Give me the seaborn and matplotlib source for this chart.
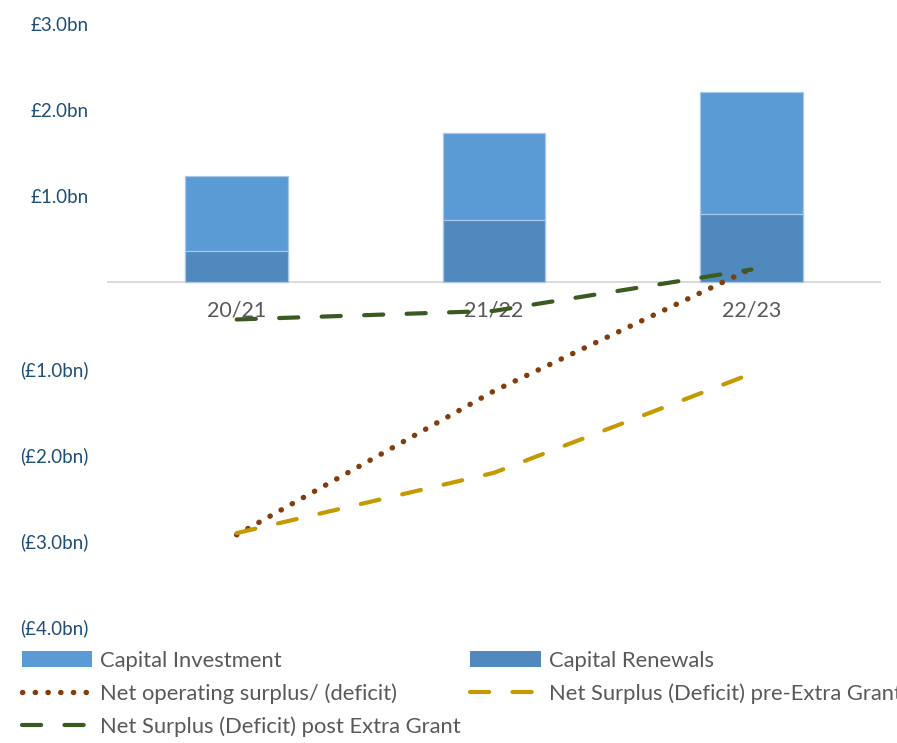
import numpy as np
import pandas as pd
import matplotlib
matplotlib.use("Agg")
import matplotlib.pyplot as plt
import seaborn as sns
from matplotlib.patches import Patch
from matplotlib.lines import Line2D

# Financial years and values (£bn)
years = ["20/21", "21/22", "22/23"]
capital_renewals = [0.37, 0.73, 0.80]
capital_investment = [0.86, 1.00, 1.41]
net_operating = [-2.93, -1.26, 0.16]
net_pre_grant = [-2.91, -2.21, -1.06]
net_post_grant = [-0.43, -0.33, 0.15]

y_ticks = [3, 2, 1, 0, -1, -2, -3, -4]

def fmt_bn(v):
    if v == 0:
        return ""
    if v > 0:
        return f"£{v:.1f}bn"
    return f"(£{abs(v):.1f}bn)"

sns.set_theme(style="white")
plt.rcParams["font.family"] = ["Lato", "DejaVu Sans"]

C_INV = "#5B9BD5"
C_REN = "#4F89BD"
C_OPS = "#843C0C"
C_PRE = "#C59A00"
C_POST = "#3A5A22"
C_EDGE = "#A8C8E8"

fig = plt.figure(figsize=(8.97, 7.43), dpi=100)
ax = fig.add_axes([108 / 897, 1 - 627 / 743, (880 - 108) / 897, (627 - 24) / 743])

df = pd.DataFrame({
    "year": years,
    "renewals": capital_renewals,
    "investment": capital_investment,
})
df["total"] = df["renewals"] + df["investment"]

# stacked bars: total drawn first, renewals overlaid at the base
sns.barplot(data=df, x="year", y="total", color=C_INV, width=0.4,
            edgecolor=C_EDGE, linewidth=0.9, saturation=1, ax=ax, zorder=1)
sns.barplot(data=df, x="year", y="renewals", color=C_REN, width=0.4,
            edgecolor=C_EDGE, linewidth=0.9, saturation=1, ax=ax, zorder=1)

xpos = np.arange(len(years))
lw = 3.0
dot_lw = 3.9
dash_style = (0, (4.6, 5.6))
dot_style = (0, (0.05, 2.3))

sns.lineplot(x=xpos, y=net_operating, color=C_OPS, linewidth=dot_lw,
             linestyle=dot_style, ax=ax, zorder=4)
ax.lines[-1].set_dash_capstyle("round")
sns.lineplot(x=xpos, y=net_pre_grant, color=C_PRE, linewidth=lw,
             linestyle=dash_style, ax=ax, zorder=4)
ax.lines[-1].set_dash_capstyle("round")
sns.lineplot(x=xpos, y=net_post_grant, color=C_POST, linewidth=lw,
             linestyle=dash_style, ax=ax, zorder=4)
ax.lines[-1].set_dash_capstyle("round")

ax.set_xlim(-0.5, 2.5)
ax.set_ylim(-4, 3)
ax.set_yticks(y_ticks)
ax.set_yticklabels([fmt_bn(v) for v in y_ticks])
ax.set_xticks(xpos)
ax.set_xticklabels(years)
ax.set_xlabel("")
ax.set_ylabel("")

for side in ["top", "right", "left"]:
    ax.spines[side].set_visible(False)
ax.spines["bottom"].set_position(("data", 0))
ax.spines["bottom"].set_color("#D9D9D9")
ax.spines["bottom"].set_linewidth(1.4)
ax.spines["bottom"].set_zorder(0.5)

ax.tick_params(axis="y", length=0, pad=14, labelsize=13.5, labelcolor="#1F4E79")
ax.tick_params(axis="x", length=0, pad=13, labelsize=15.5, labelcolor="#595959")
ax.grid(False)

# legend: rows read Investment/Renewals, operating/pre-grant, post-grant
h_inv = Patch(facecolor=C_INV, edgecolor="none")
h_ren = Patch(facecolor=C_REN, edgecolor="none")
h_ops = Line2D([], [], color=C_OPS, linewidth=dot_lw, linestyle=dot_style,
               dash_capstyle="round")
h_pre = Line2D([], [], color=C_PRE, linewidth=lw, linestyle=dash_style,
               dash_capstyle="round")
h_post = Line2D([], [], color=C_POST, linewidth=lw, linestyle=dash_style,
                dash_capstyle="round")

handles = [h_inv, h_ops, h_post, h_ren, h_pre]
labels = ["Capital Investment", "Net operating surplus/ (deficit)",
          "Net Surplus (Deficit) post Extra Grant", "Capital Renewals",
          "Net Surplus (Deficit) pre-Extra Grant"]
leg = fig.legend(handles, labels, ncol=2, loc="upper left",
                 bbox_to_anchor=(22 / 897, 1 - 651 / 743),
                 frameon=False, fontsize=15.8, handlelength=3.2,
                 handleheight=0.75, handletextpad=0.37, columnspacing=0.42,
                 labelspacing=0.56, borderpad=0, borderaxespad=0)
for t in leg.get_texts():
    t.set_color("#595959")

fig.savefig("out.png", dpi=100)
